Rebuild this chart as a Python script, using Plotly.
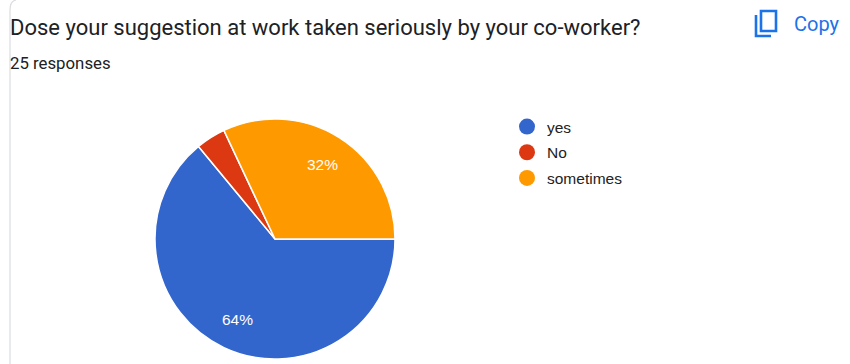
import math
import plotly.graph_objects as go

W, H = 850, 364
categories = ["yes", "No", "sometimes"]
values = [16, 1, 8]
colors = ["#3366CC", "#DC3912", "#FF9900"]
title_text = "Dose your suggestion at work taken seriously by your co-worker?"
subtitle_text = "25 responses"
copy_text = "Copy"
CX, CY, R = 275, 239, 120


def px(x):
    return x / W


def py(y):
    return 1 - y / H


fig = go.Figure()
fig.add_trace(go.Pie(
    labels=categories, values=values, sort=False, direction="clockwise", rotation=90,
    marker=dict(colors=colors, line=dict(color="white", width=1.5)),
    textinfo="none",
    domain=dict(x=[px(CX - R), px(CX + R)], y=[py(CY + R), py(CY - R)]),
    showlegend=False, hoverinfo="label+percent",
))
for name, color in zip(categories, colors):
    fig.add_trace(go.Scatter(
        x=[None], y=[None], mode="markers", name=name, legendgroup=name,
        marker=dict(color=color, size=16, symbol="circle"),
    ))

# slice labels, placed from the slice values (small slices stay unlabelled)
total = sum(values)
slice_annotations = []
start = 90.0
for v in values:
    sweep = v / total * 360
    if v / total >= 0.05:
        a = math.radians(start + sweep / 2)
        slice_annotations.append(dict(
            text=f"{v / total:.0%}", x=px(CX + 0.74 * R * math.sin(a)), y=py(CY - 0.74 * R * math.cos(a)),
            xref="paper", yref="paper", showarrow=False, xanchor="center", yanchor="middle",
            font=dict(family="Liberation Sans", size=15.5, color="white"),
        ))
    start += sweep

rect = lambda x0, y0, x1, y1: dict(type="rect", xref="paper", yref="paper",
                                   x0=px(x0), x1=px(x1), y0=py(y1), y1=py(y0),
                                   line=dict(color="#1A73E8", width=2.6))
fig.update_layout(
    width=W, height=H, margin=dict(l=0, r=0, t=0, b=0),
    paper_bgcolor="white", plot_bgcolor="white",
    xaxis=dict(visible=False), yaxis=dict(visible=False),
    legend=dict(x=px(507), y=py(110), xanchor="left", yanchor="top",
                font=dict(family="Liberation Sans", size=15.5, color="#222222"),
                tracegroupgap=2.5, itemsizing="trace", bgcolor="rgba(0,0,0,0)"),
    annotations=[
        dict(text=title_text, x=px(8), y=py(28), xref="paper", yref="paper", xanchor="left",
             yanchor="middle", showarrow=False, font=dict(family="Roboto", size=22, color="#202124")),
        dict(text=subtitle_text, x=px(8), y=py(63), xref="paper", yref="paper", xanchor="left",
             yanchor="middle", showarrow=False, font=dict(family="Roboto", size=16.8, color="#202124")),
        dict(text=copy_text, x=px(792), y=py(24), xref="paper", yref="paper", xanchor="left",
             yanchor="middle", showarrow=False, font=dict(family="Roboto", size=20, color="#1A73E8")),
    ] + slice_annotations,
    shapes=[
        dict(type="path", xref="paper", yref="paper",
             path=f"M {px(10)} {py(364)} L {px(10)} {py(10)} Q {px(10)} {py(1)} {px(16)} {py(0)}",
             line=dict(color="#DADCE0", width=1.2)),
        rect(761, 11, 776, 31),
        dict(type="path", xref="paper", yref="paper",
             path=f"M {px(756)} {py(15)} L {px(756)} {py(36)} L {px(771)} {py(36)}",
             line=dict(color="#1A73E8", width=2.6)),
    ],
)
fig.write_html("out.html", config={"displayModeBar": False},
               post_script="document.body.style.margin='0';")
